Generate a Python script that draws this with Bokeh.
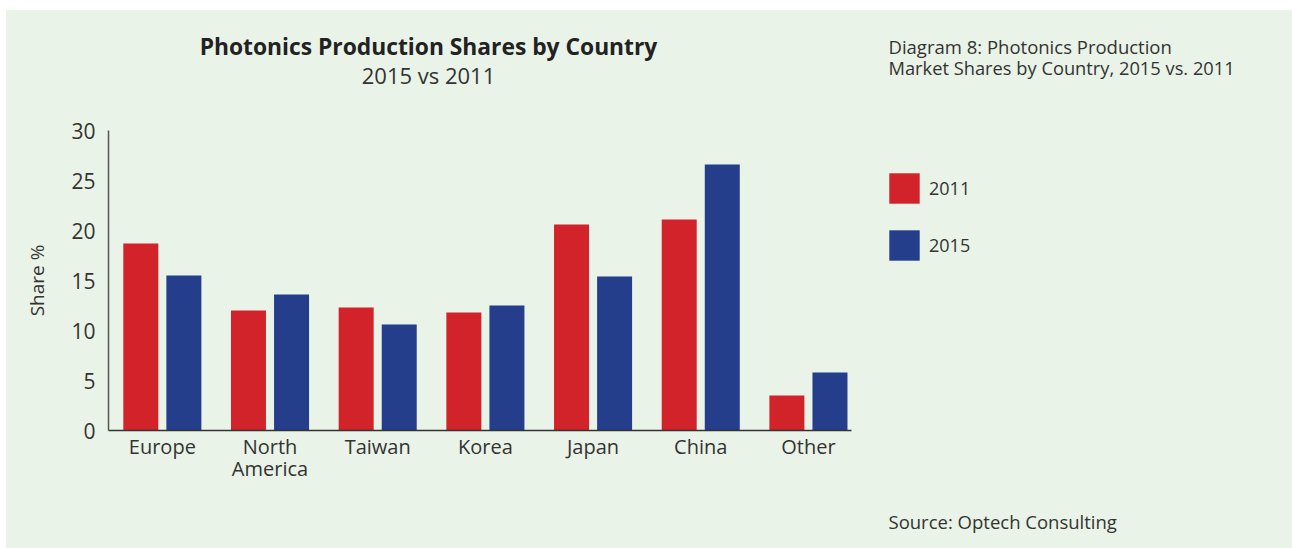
from bokeh.plotting import figure
from bokeh.models import (ColumnDataSource, Range1d, FixedTicker, Label, Legend,
                          LegendItem, Spacer)
from bokeh.layouts import row, column
from bokeh.transform import dodge
from bokeh.embed import file_html
from bokeh.resources import INLINE

categories = ["Europe", "North\nAmerica", "Taiwan", "Korea", "Japan", "China", "Other"]
share_2011 = [18.7, 12.0, 12.3, 11.8, 20.6, 21.1, 3.5]
share_2015 = [15.5, 13.6, 10.6, 12.5, 15.4, 26.6, 5.8]
y_ticks = [0, 5, 10, 15, 20, 25, 30]
series_names = ["2011", "2015"]

BG = "#e9f3e7"
RED = "#d2232a"
BLUE = "#243e8c"
TXT = "#333333"
FONT = "Open Sans"

src = ColumnDataSource(dict(idx=list(range(len(categories))), s11=share_2011, s15=share_2015))


def blank_fig(w, h, left=0, right=0):
    f = figure(width=w, height=h, output_backend="svg", toolbar_location=None,
               x_range=Range1d(left, w - right), y_range=Range1d(0, h),
               x_axis_location=None, y_axis_location=None,
               min_border=0, min_border_left=left, min_border_right=right,
               min_border_top=0, min_border_bottom=0)
    f.background_fill_alpha = 0
    f.border_fill_color = BG
    f.outline_line_color = None
    f.grid.visible = False
    return f


def lab(f, text, x, y, size, style="normal", align="left", color=TXT):
    f.add_layout(Label(text=text, x=x, y=y, text_font=FONT, text_font_size=size,
                       text_font_style=style, text_color=color,
                       text_align=align, text_baseline="middle"))


# ---- title area (same side borders as the chart so frames line up) ----
t = blank_fig(864, 100, left=102, right=19)
lab(t, "Photonics Production Shares by Country", 422, 64, "22.8px", "bold", "center", "#222222")
lab(t, "2015 vs 2011", 422, 36, "22px", "normal", "center")

# ---- main chart ----
p = figure(width=864, height=438, output_backend="svg", toolbar_location=None,
           x_range=Range1d(-0.5, 6.4), y_range=Range1d(0, 30),
           min_border_left=102, min_border_right=19, min_border_top=20, min_border_bottom=118)
p.background_fill_color = BG
p.border_fill_color = BG
p.outline_line_color = None
p.grid.visible = False

p.vbar(x=dodge("idx", -0.2), top="s11", width=0.325, source=src, fill_color=RED, line_color=None)
p.vbar(x=dodge("idx", 0.2), top="s15", width=0.325, source=src, fill_color=BLUE, line_color=None)

xa = p.xaxis[0]
xa.ticker = FixedTicker(ticks=list(range(len(categories))))
xa.major_label_overrides = {i: c for i, c in enumerate(categories)}
xa.major_tick_line_color = None
xa.minor_tick_line_color = None
xa.axis_line_color = "#333333"
xa.axis_line_width = 1.5
xa.major_label_text_font = FONT
xa.major_label_text_font_size = "20px"
xa.major_label_text_color = TXT
xa.major_label_text_line_height = 0.85
xa.major_label_standoff = -4

ya = p.yaxis[0]
ya.ticker = FixedTicker(ticks=y_ticks)
ya.major_tick_line_color = None
ya.minor_tick_line_color = None
ya.axis_line_color = "#555555"
ya.axis_line_width = 1.5
ya.major_label_text_font = FONT
ya.major_label_text_font_size = "21px"
ya.major_label_text_color = TXT
ya.major_label_standoff = 7
ya.axis_label = "Share %"
ya.axis_label_text_font = FONT
ya.axis_label_text_font_size = "19px"
ya.axis_label_text_font_style = "normal"
ya.axis_label_text_color = TXT
ya.axis_label_standoff = 18

# ---- side area ----
s = blank_fig(422, 538)
lab(s, "Diagram 8: Photonics Production", 18, 502, "18.5px")
lab(s, "Market Shares by Country, 2015 vs. 2011", 18, 481, "18.3px")
lab(s, "Source: Optech Consulting", 18, 27, "18.5px")

k1 = s.vbar(x=dodge("idx", -0.2), top="s11", width=0.325, source=src, fill_color=RED, line_color=None)
k2 = s.vbar(x=dodge("idx", 0.2), top="s15", width=0.325, source=src, fill_color=BLUE, line_color=None)
k1.visible = False
k2.visible = False
legend = Legend(items=[LegendItem(label=series_names[0], renderers=[k1]),
                       LegendItem(label=series_names[1], renderers=[k2])],
                location=(15, 284), glyph_width=38, glyph_height=38, spacing=19,
                padding=0, margin=0, label_standoff=6,
                label_text_font=FONT, label_text_font_size="18px", label_text_color=TXT,
                border_line_color=None, background_fill_alpha=0,
                inactive_fill_alpha=0)
s.add_layout(legend)

inner = row(column(t, p, styles={"background-color": BG}), s,
            styles={"background-color": BG})
layout = column(Spacer(height=10), row(Spacer(width=6), inner))

open("out.html", "w").write(file_html(layout, INLINE))
